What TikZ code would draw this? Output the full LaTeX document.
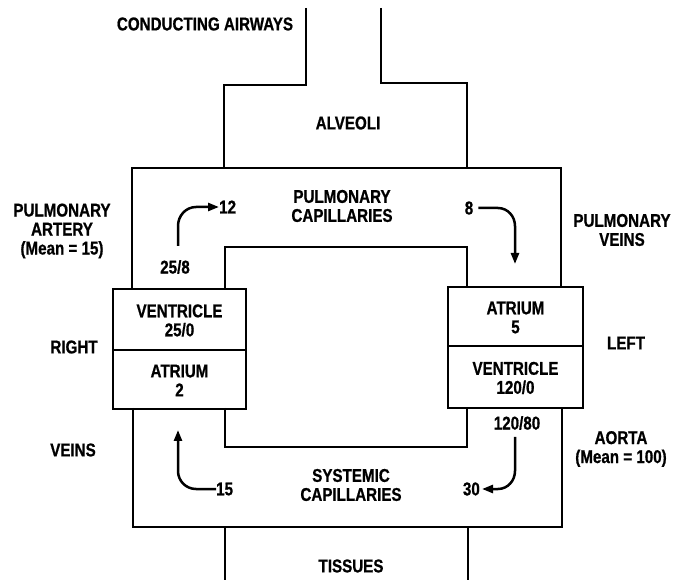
\documentclass[tikz,border=0pt]{standalone}
\usepackage{fontspec}
\setmainfont{Liberation Sans}[FakeStretch=0.82,BoldFeatures={FakeBold=0.8}]
\usetikzlibrary{arrows.meta}
\begin{document}
\begin{tikzpicture}[x=1pt,y=-1pt,
  lbl/.style={font=\fontsize{18.5}{19}\selectfont\bfseries,inner sep=0pt,align=center},
  wall/.style={line width=2.2pt,line join=miter},
  thin wall/.style={line width=1.7pt},
  chamber/.style={draw,line width=2pt,minimum width=133pt,inner sep=0pt,anchor=north west},
  flow/.style={line width=2.5pt,-{Triangle[length=11pt,width=8pt]}}]
\useasboundingbox (0,0) rectangle (681,580);
% airways and alveoli
\draw[thin wall] (306,8) -- (306,85) -- (224,85) -- (224,168);
\draw[thin wall] (381,8) -- (381,83) -- (467,83) -- (467,168);
% pulmonary loop
\draw[wall] (132,288) -- (132,168) -- (561,168) -- (561,286);
\draw[wall] (225,288) -- (225,247) -- (467,247) -- (467,286);
% systemic loop
\draw[wall] (133,408) -- (133,527) -- (562,527) -- (562,407);
\draw[wall] (225,408) -- (225,447) -- (467,447) -- (467,407);
% tissues
\draw[thin wall] (225,527) -- (225,580);
\draw[thin wall] (468,527) -- (468,580);
% heart chambers
\node[chamber,minimum height=61pt] (rv) at (112,288) {};
\node[chamber,minimum height=59pt] (ra) at (112,349) {};
\node[chamber,minimum height=59pt,minimum width=135pt] (la) at (447,286) {};
\node[chamber,minimum height=62pt,minimum width=135pt] (lv) at (447,345) {};
\node[lbl] (rvt) at ([yshift=-1pt]rv.center) {VENTRICLE\\25/0};
\node[lbl] (rat) at ([yshift=-1pt]ra.center) {ATRIUM\\2};
\node[lbl] (lat) at ([yshift=-1pt]la.center) {ATRIUM\\5};
\node[lbl] (lvt) at ([yshift=-1pt]lv.center) {VENTRICLE\\120/0};
% labels
\node[lbl] (ca) at (205,24) {CONDUCTING AIRWAYS};
\node[lbl] (alv) at (348,123) {ALVEOLI};
\node[lbl] (pa) at (62,231) {PULMONARY\\ARTERY\\(Mean = 15)};
\node[lbl] (pc) at (342,206) {PULMONARY\\CAPILLARIES};
\node[lbl] (pv) at (622,230) {PULMONARY\\VEINS};
\node[lbl] (right) at (74,347) {RIGHT};
\node[lbl] (left) at (626,343) {LEFT};
\node[lbl] (veins) at (73,450) {VEINS};
\node[lbl] (aorta) at (621,449) {AORTA\\(Mean = 100)};
\node[lbl] (sc) at (351,485) {SYSTEMIC\\CAPILLARIES};
\node[lbl] (tis) at (351,566) {TISSUES};
\node[lbl] (p258) at (175,267) {25/8};
\node[lbl,anchor=west] (p12) at (219,207) {12};
\node[lbl] (p8) at (469,208) {8};
\node[lbl] (p12080) at (517,423) {120/80};
\node[lbl,anchor=west] (p15) at (216,489) {15};
\node[lbl,anchor=east] (p30) at (480,489) {30};
% flow arrows
\coordinate (a1s) at (178,246);
\draw[flow] (a1s) -- (178,226) to[out=90,in=180] (196,207) -- (p12.west);
\coordinate (a2e) at (515,264);
\draw[flow] (p8.east) ++(5,0) -- (498,208) to[out=0,in=90] (515,226) -- (a2e);
\coordinate (a3e) at (178,430);
\draw[flow] (p15.west) -- (196,489) to[out=180,in=-90] (178,471) -- (a3e);
\coordinate (a4s) at (515,437);
\draw[flow] (a4s) -- (515,471) to[out=-90,in=0] (498,489) -- ([xshift=2pt]p30.east);
\end{tikzpicture}
\end{document}
